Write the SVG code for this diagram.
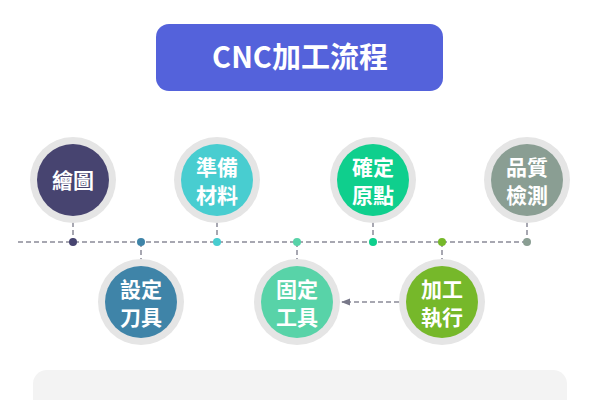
<svg xmlns="http://www.w3.org/2000/svg" width="600" height="400" viewBox="0 0 600 400">
<defs>
<style>
.ring{fill:#e5e5e5}
.t{font-family:"Noto Sans CJK TC","Noto Sans CJK SC",sans-serif;font-weight:bold;font-size:21px;fill:#fff;text-anchor:middle}
.d{stroke:#8a8a98;stroke-width:1.5;stroke-dasharray:5,3;fill:none}
</style>
<marker id="ah" viewBox="0 0 10 10" refX="9" refY="5" markerWidth="6" markerHeight="6" orient="auto"><path d="M0,1 L10,5 L0,9 Z" fill="#777788"/></marker>
</defs>
<rect width="600" height="400" fill="#fff"/>
<g id="title"><rect x="156" y="24" width="287" height="67" rx="13" fill="#5462db"/>
<text x="300" y="68" font-family="'Noto Sans CJK TC',sans-serif" font-weight="bold" font-size="29" fill="#fff" text-anchor="middle">CNC加工流程</text></g>
<rect x="33" y="370" width="534" height="60" rx="14" fill="#f3f3f3"/>
<g id="connectors">
<line class="d" x1="18" y1="242" x2="527" y2="242"/>
<line class="d" x1="73" y1="222" x2="73" y2="242"/>
<line class="d" x1="217" y1="222" x2="217" y2="242"/>
<line class="d" x1="373" y1="222" x2="373" y2="242"/>
<line class="d" x1="527" y1="222" x2="527" y2="242"/>
<line class="d" x1="141" y1="242" x2="141" y2="262"/>
<line class="d" x1="297" y1="242" x2="297" y2="262"/>
<line class="d" x1="442" y1="242" x2="442" y2="262"/>
<line class="d" x1="399" y1="302" x2="342" y2="302" marker-end="url(#ah)"/>
<circle cx="73" cy="242" r="4" fill="#474470"/>
<circle cx="141" cy="242" r="4" fill="#3f84a8"/>
<circle cx="217" cy="242" r="4" fill="#48cdd0"/>
<circle cx="297" cy="242" r="4" fill="#58d3a8"/>
<circle cx="373" cy="242" r="4" fill="#0fcf8d"/>
<circle cx="442" cy="242" r="4" fill="#76b82a"/>
<circle cx="527" cy="242" r="4" fill="#8a9e93"/>
</g>
<g id="n1"><circle class="ring" cx="73" cy="180" r="43"/><circle cx="73" cy="180" r="36" fill="#474470"/><text class="t" x="73" y="188">繪圖</text></g>
<g id="n2"><circle class="ring" cx="141" cy="302" r="43"/><circle cx="141" cy="302" r="36" fill="#3f84a8"/><text class="t" x="141" y="297">設定</text><text class="t" x="141" y="325">刀具</text></g>
<g id="n3"><circle class="ring" cx="217" cy="180" r="43"/><circle cx="217" cy="180" r="36" fill="#48cdd0"/><text class="t" x="217" y="175">準備</text><text class="t" x="217" y="203">材料</text></g>
<g id="n4"><circle class="ring" cx="297" cy="302" r="43"/><circle cx="297" cy="302" r="36" fill="#58d3a8"/><text class="t" x="297" y="297">固定</text><text class="t" x="297" y="325">工具</text></g>
<g id="n5"><circle class="ring" cx="373" cy="180" r="43"/><circle cx="373" cy="180" r="36" fill="#0fcf8d"/><text class="t" x="373" y="175">確定</text><text class="t" x="373" y="203">原點</text></g>
<g id="n6"><circle class="ring" cx="442" cy="302" r="43"/><circle cx="442" cy="302" r="36" fill="#76b82a"/><text class="t" x="442" y="297">加工</text><text class="t" x="442" y="325">執行</text></g>
<g id="n7"><circle class="ring" cx="527" cy="180" r="43"/><circle cx="527" cy="180" r="36" fill="#8a9e93"/><text class="t" x="527" y="175">品質</text><text class="t" x="527" y="203">檢測</text></g>
</svg>
